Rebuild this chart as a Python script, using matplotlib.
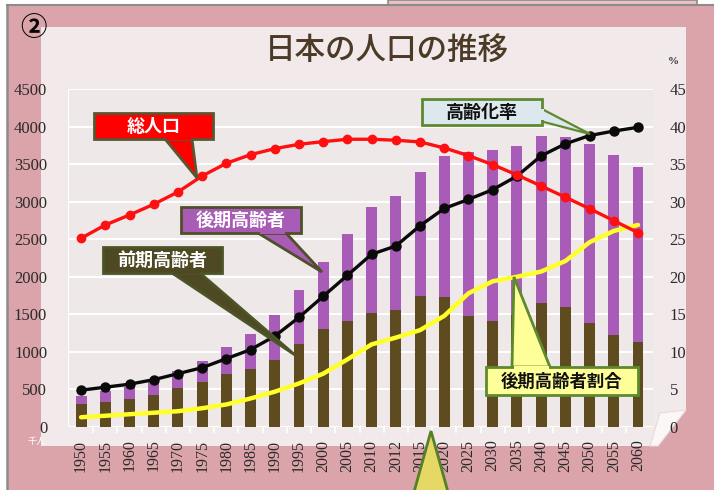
import matplotlib
matplotlib.use("Agg")
import matplotlib.pyplot as plt
from matplotlib.patches import Polygon
import numpy as np

plt.rcParams['font.family'] = ['Noto Sans CJK JP', 'DejaVu Sans']

# ---------------- data ----------------
years = ['1950', '1955', '1960', '1965', '1970', '1975', '1980', '1985', '1990', '1995',
         '2000', '2005', '2010', '2012', '2015', '2020', '2025', '2030', '2035', '2040',
         '2045', '2050', '2055', '2060']
# 前期高齢者 (65-74), 千人 axis units
zenki = [309, 338, 373, 424, 516, 600, 699, 772, 892, 1109, 1301, 1407, 1517, 1560,
         1749, 1733, 1479, 1407, 1495, 1645, 1600, 1383, 1225, 1128]
# 後期高齢者 (75+)
kouki = [107, 139, 163, 194, 224, 284, 366, 471, 597, 717, 900, 1160, 1407, 1519,
         1646, 1879, 2179, 2278, 2245, 2223, 2257, 2385, 2401, 2336]
# 総人口 (drawn on the left axis scale)
total_pop = [2513, 2690, 2823, 2965, 3129, 3342, 3511, 3626, 3706, 3764, 3799, 3831,
             3831, 3818, 3795, 3715, 3613, 3493, 3356, 3209, 3059, 2907, 2747, 2587]
# 高齢化率 (%)
aging_rate = [4.9, 5.3, 5.7, 6.3, 7.1, 7.9, 9.1, 10.3, 12.1, 14.6, 17.4, 20.2, 23.0, 24.1,
              26.8, 29.1, 30.3, 31.6, 33.4, 36.1, 37.7, 38.8, 39.4, 39.9]
# 後期高齢者割合 (%)
late_ratio = [1.3, 1.5, 1.7, 1.9, 2.1, 2.5, 3.0, 3.8, 4.7, 5.8, 7.1, 9.0, 11.0, 11.9,
              12.9, 14.8, 17.8, 19.4, 20.0, 20.7, 22.1, 24.6, 26.1, 26.9]
left_ticks = [0, 500, 1000, 1500, 2000, 2500, 3000, 3500, 4000, 4500]
right_ticks = [0, 5, 10, 15, 20, 25, 30, 35, 40, 45]

W, H = 714, 490
fig = plt.figure(figsize=(W / 100, H / 100), dpi=100)
fig.patch.set_facecolor('#dba4aa')

def P(x, y):
    return (x / W, 1 - y / H)

def poly(pts, fc, ec='none', lw=0, z=0.5, alpha=1):
    p = Polygon([P(*q) for q in pts], closed=True, transform=fig.transFigure,
                facecolor=fc, edgecolor=ec, linewidth=lw, zorder=z, alpha=alpha)
    fig.patches.append(p)
    return p

# top strip & frame
poly([(0, 0), (714, 0), (714, 5), (0, 5)], '#ffffff', z=0.1)
poly([(388, 0), (697, 0), (697, 5), (388, 5)], '#e9c3c6', ec='#8a8a8a', lw=1.2, z=0.2)
fig.add_artist(plt.Line2D([7 / W, 714 / W], [1 - 5 / H, 1 - 5 / H], transform=fig.transFigure,
                          color='#8c8c8c', lw=1.5, zorder=0.3))
fig.add_artist(plt.Line2D([7 / W, 7 / W], [0, 1 - 5 / H], transform=fig.transFigure,
                          color='#8c8c8c', lw=1.8, zorder=0.3))
poly([(0, 5), (7, 5), (7, 490), (0, 490)], '#ffffff', z=0.1)

# paper sheet
poly([(41, 27), (686, 27), (686, 410), (658, 446), (41, 446)], '#f1e9ea', z=0.4)
poly([(686, 410), (660, 413), (650, 446), (658, 446)], '#fbf7f7', ec='#e6dcdc', lw=0.8, z=0.45)

# ---------------- axes ----------------
ax = fig.add_axes([68 / W, 1 - 427 / H, (653 - 68) / W, (427 - 89) / H])
ax.set_facecolor('#efe8e9')
ax2 = ax.twinx()
ax.set_zorder(1)
ax2.set_zorder(2)
ax2.patch.set_visible(False)

x = np.arange(len(years))
bw = 0.45
ax.bar(x, zenki, width=bw, color='#5e4b1f', zorder=2)
ax.bar(x, kouki, width=bw, bottom=zenki, color='#a95cb7', zorder=2)

ax2.plot(x, late_ratio, color='#ffff2a', lw=3.2, zorder=3, solid_joinstyle='round',
         solid_capstyle='round')
ax2.plot(x, aging_rate, color='#0a0a0a', lw=2.4, marker='o', ms=6.5, zorder=4,
         solid_joinstyle='round')
# total population on the left-axis scale, drawn via ax2 using a transform of ax
ax2.plot(x, total_pop, color='#ff1010', lw=2.4, marker='o', ms=6, zorder=5,
         solid_joinstyle='round', transform=ax.transData)

for a in (ax, ax2):
    a.set_xlim(-0.54, 23.62)
    for s in a.spines.values():
        s.set_visible(False)
ax.set_ylim(0, 4500)
ax2.set_ylim(0, 45)

ax.set_yticks(left_ticks)
ax.set_yticklabels([str(v) for v in left_ticks], family='Liberation Serif', fontsize=12,
                   color='#2a2a2a')
ax2.set_yticks(right_ticks)
ax2.set_yticklabels([str(v) for v in right_ticks], family='Liberation Serif', fontsize=12,
                    color='#2a2a2a')
ax.tick_params(axis='y', length=0, pad=15)
ax2.tick_params(axis='y', length=0, pad=12)
ax.set_xticks(x)
ax.set_xticklabels(years, rotation=90, family='Liberation Serif', fontsize=11.5,
                   color='#2a2a2a')
ax.tick_params(axis='x', length=0, pad=9)
ax.set_xticks(np.arange(len(years) - 1) + 0.5, minor=True)
ax.tick_params(axis='x', which='minor', length=4, width=1.2, color='white')
ax.grid(axis='y', color='white', lw=1.4, zorder=0)
ax.set_axisbelow(True)
ax.axvline(-0.54, color='white', lw=1.5, zorder=1)
ax.axhline(0, color='white', lw=1.5, zorder=1)

# ---------------- texts ----------------
fig.text(*P(387, 50), '日本の人口の推移', ha='center', va='center', fontsize=22,
         color='#4a3a26', fontweight='medium', zorder=6)
fig.text(*P(33, 28), '②', ha='center', va='center', fontsize=19, fontweight='bold',
         color='#000000', zorder=6)
fig.text(*P(673, 62), '%', ha='center', va='center', fontsize=8, color='#333333',
         family='Liberation Serif', fontweight='bold', zorder=6)
fig.text(*P(37, 441), '千人', ha='center', va='center', fontsize=6.5, color='#ffffff', zorder=6)

# ---------------- callouts ----------------
def callout(box, wedge, fc, ec, text, tcolor, fs=13, lw=2.0):
    x0, y0, x1, y1 = box
    poly(wedge, fc, ec=ec, lw=lw, z=7)
    poly([(x0, y0), (x1, y0), (x1, y1), (x0, y1)], fc, ec=ec, lw=lw, z=7.1)
    yb = wedge[0][1]
    d = -2 if abs(yb - y1) < 1 else 2
    ys = sorted([yb - 0.5 * d, yb + 1.5 * d])
    poly([(wedge[0][0] + 1.5, ys[0]), (wedge[1][0] - 1.5, ys[0]),
          (wedge[1][0] - 1.5, ys[1]), (wedge[0][0] + 1.5, ys[1])], fc, z=7.2)
    fig.text(*P((x0 + x1) / 2, (y0 + y1) / 2 + 0.5), text, ha='center', va='center',
             fontsize=fs, fontweight='bold', color=tcolor, zorder=7.5)

callout((94, 113, 213, 139), [(165, 139), (192, 139), (197, 178)],
        '#ff0000', '#5a5630', '総人口', '#ffffff')
callout((181, 207, 301, 233), [(258, 233), (286, 233), (322, 272)],
        '#a85cb6', '#4f4f28', '後期高齢者', '#ffffff')
callout((103, 247, 222, 273), [(172, 273), (200, 273), (295, 355)],
        '#4f4923', '#4b5527', '前期高齢者', '#ffffff')
callout((486, 367, 638, 395), [(512, 367), (550, 367), (514, 277)],
        '#ffff99', '#5e8a2e', '後期高齢者割合', '#111111', fs=12.5)

# 高齢化率 callout (side wedge)
poly([(540, 108), (590, 134), (540, 121)], '#dce8ee', ec='#5e8a2e', lw=1.6, z=7)
poly([(422, 99), (542, 99), (542, 125), (422, 125)], '#dce8ee', ec='#5e8a2e', lw=2.0, z=7.1)
poly([(539, 109.5), (544, 109.5), (544, 120), (539, 120)], '#dce8ee', z=7.2)
fig.text(*P(482, 112.5), '高齢化率', ha='center', va='center', fontsize=13,
         fontweight='bold', color='#111111', zorder=7.5)

# bottom yellow triangle
poly([(431, 431), (448, 492), (414, 492)], '#e6d865', ec='#55802a', lw=2.0, z=7)

fig.savefig('out.png', dpi=100, facecolor=fig.get_facecolor())
